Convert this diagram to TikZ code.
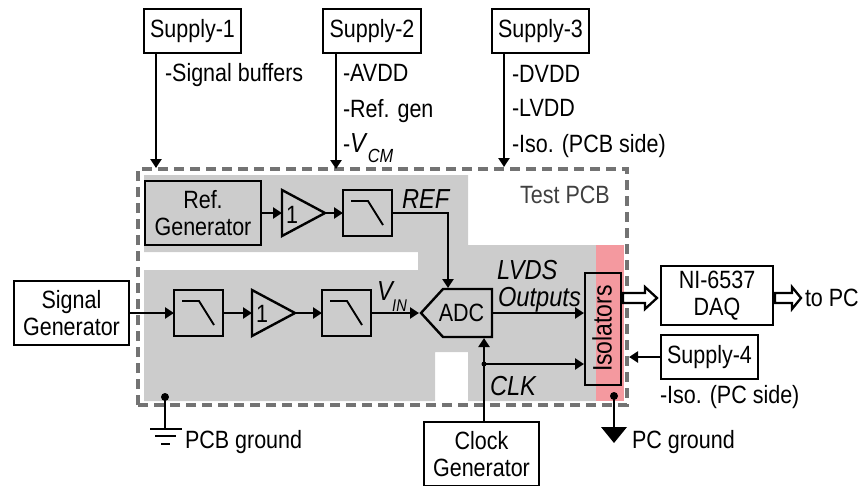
\documentclass[tikz,border=0pt]{standalone}
\usepackage{fontspec}
\setmainfont[FakeStretch=0.86]{Liberation Sans}
\usetikzlibrary{arrows.meta,calc}
\newcommand{\fs}[1]{\fontsize{#1}{26.5}\selectfont}
\tikzset{
  blk/.style={draw=black,line width=2.7pt,rectangle,inner sep=0pt,outer sep=0pt,align=center,font=\fs{25}},
  lbl/.style={inner sep=0pt,outer sep=0pt,anchor=base west,font=\fs{25}},
  ital/.style={inner sep=0pt,outer sep=0pt,anchor=base west,font=\fs{27.5}\itshape},
  conn/.style={draw=black,line width=2.3pt,-{Triangle[length=9pt,width=11pt]}},
  wire/.style={draw=black,line width=2.3pt},
  shapeline/.style={draw=black,line width=2.4pt,line join=miter},
  hollow/.style={draw=black,line width=2.3pt,fill=white,line join=miter},
  dotmark/.style={circle,fill=black,inner sep=0pt,outer sep=0pt,minimum size=#1}
}
\newcommand{\lpf}[2]{%
  \node[blk,minimum width=49pt,minimum height=46pt] (#1) at (#2) {};
  \draw[shapeline,line width=1.9pt,shift={(#1.north west)}] (8,11)--(25,11)--(40,35);}
\begin{document}
\begin{tikzpicture}[x=1pt,y=-1pt]
\useasboundingbox (0,0) rectangle (867,485);
% gray regions
\fill[black!20] (144,175) -- (468,175) -- (468,245) -- (596,245) -- (596,401) -- (468,401) -- (468,352) -- (435,352) -- (435,401) -- (144,401) -- (144,270) -- (418,270) -- (418,252) -- (144,252) -- cycle;
\fill[fill={rgb,255:red,244;green,153;blue,159}] (596,245) rectangle (624,401);
\draw[draw=black!55,line width=3.5pt,dash pattern=on 10pt off 6pt] (138,405) -- (138,169) -- (627,169) -- (627,405) -- cycle;
\node[font=\fs{25},text=black!75,inner sep=0pt,anchor=base west] (pcb) at (520,203) {Test PCB};
% supplies
\node[blk,minimum width=97pt,minimum height=44pt] (s1) at (192.5,31) {Supply-1};
\node[blk,minimum width=98pt,minimum height=44pt] (s2) at (372,31) {Supply-2};
\node[blk,minimum width=97pt,minimum height=44pt] (s3) at (540.5,31) {Supply-3};
\coordinate (s1e) at (156,168);
\coordinate (s2e) at (336,169);
\coordinate (s3e) at (504,167);
\draw[conn] (s1.south -| s1e) -- (s1e);
\draw[conn] (s2.south -| s2e) -- (s2e);
\draw[conn] (s3.south -| s3e) -- (s3e);
\node[lbl] (t1) at (165,81) {-Signal buffers};
\node[lbl] (t2) at (343,81) {-AVDD};
\node[lbl] (t3) at (343,117) {-Ref. gen};
\node[lbl] (t4) at (343,152) {-{\fs{27.5}\textit{V}}\raisebox{-10pt}{\fs{19}\textit{CM}}};
\node[lbl] (t5) at (512,82) {-DVDD};
\node[lbl] (t6) at (512,116) {-LVDD};
\node[lbl] (t7) at (512,152) {-Iso. (PCB side)};
% reference chain
\node[blk,minimum width=116pt,minimum height=64pt] (ref) at (203,213) {Ref.\\Generator};
\coordinate (b1i) at (282,213);
\coordinate (b1o) at (325,213);
\draw[shapeline] (282,190) -- (282,236) -- (b1o) -- cycle;
\node[font=\fs{25},inner sep=0pt] (b1t) at (292,215) {1};
\lpf{f1}{367.5,213}
\draw[conn] (ref.east) -- (b1i);
\draw[conn] (b1o) -- (f1.west);
\node[ital] (reft) at (402,208) {REF};
% ADC
\coordinate (adcw) at (421,313);
\coordinate (adcn) at (448,288);
\draw[shapeline] (adcw) -- (443,289) -- (492,289) -- (492,337) -- (443,337) -- cycle;
\node[font=\fs{25},inner sep=0pt] (adc) at (461.5,313) {ADC};
\coordinate (adce) at (492,313);
\coordinate (adcs) at (484,338);
\draw[conn] (f1.east) -- (adcn |- f1.east) -- (adcn);
% signal chain
\node[blk,minimum width=115pt,minimum height=64pt] (sg) at (71.5,313) {Signal\\Generator};
\lpf{f2}{198.5,313}
\coordinate (b2i) at (252,313);
\coordinate (b2o) at (295,313);
\draw[shapeline] (252,290) -- (252,336) -- (b2o) -- cycle;
\node[font=\fs{25},inner sep=0pt] (b2t) at (262,314) {1};
\lpf{f3}{346.5,313}
\draw[conn] (sg.east) -- (f2.west);
\draw[conn] (f2.east) -- (b2i);
\draw[conn] (b2o) -- (f3.west);
\draw[conn] (f3.east) -- ($(adcw)+(-2,0)$);
\node[ital] (vin) at (377,300) {V};
\node[inner sep=0pt,anchor=base west,font=\fs{17}\itshape] (vins) at (392,311) {IN};
% isolators
\node[draw=black,line width=2.3pt,minimum width=36pt,minimum height=112pt,inner sep=0pt,outer sep=0pt] (iso) at (603,329) {};
\node[rotate=90,font=\fs{26.7},inner sep=0pt] (isot) at (602,328.5) {Isolators};
\coordinate (isoa) at (584,313);
\coordinate (isob) at (584,364);
\draw[conn] (adce) -- (isoa);
\node[ital] (lv) at (497,279) {LVDS};
\node[ital] (ou) at (498,306) {Outputs};
% clock
\node[blk,minimum width=115pt,minimum height=64pt] (clk) at (481.5,454) {Clock\\Generator};
\draw[conn] (adcs |- clk.north) -- (adcs);
\node[dotmark=5pt] (cd) at (484,364) {};
\draw[conn] (cd.center) -- (isob);
\node[ital] (clkt) at (490,395) {CLK};
% DAQ
\node[blk,minimum width=112pt,minimum height=59pt] (daq) at (717,295.5) {NI-6537\\DAQ};
\draw[hollow] (623,293) -- (645,293) -- (645,287) -- (657,298) -- (645,309) -- (645,303) -- (623,303) -- cycle;
\draw[hollow] (775,293) -- (792,293) -- (792,287) -- (801,298) -- (792,309) -- (792,303) -- (775,303) -- cycle;
\node[lbl] (pc) at (805,306) {to PC};
% supply 4
\node[blk,minimum width=97pt,minimum height=44pt] (s4) at (709.5,357) {Supply-4};
\coordinate (s4e) at (629,357);
\draw[conn] (s4.west) -- (s4e);
\node[lbl] (t8) at (660,403) {-Iso. (PC side)};
% PC ground
\node[dotmark=8pt] (pd) at (614,396) {};
\coordinate (pb) at (614,428);
\draw[wire] (pd.center) -- (pb);
\fill[black] (601,427) -- (627,427) -- (614,443) -- cycle;
\node[lbl] (pgt) at (632,448) {PC ground};
% PCB ground
\node[dotmark=8pt] (gd) at (165,397) {};
\coordinate (gb) at (165,429);
\draw[wire] (gd.center) -- (gb);
\draw[wire] (150,429) -- (182,429);
\draw[wire] (155,436) -- (176,436);
\draw[wire] (161,444) -- (170,444);
\node[lbl] (ggt) at (185,448) {PCB ground};
\end{tikzpicture}
\end{document}
